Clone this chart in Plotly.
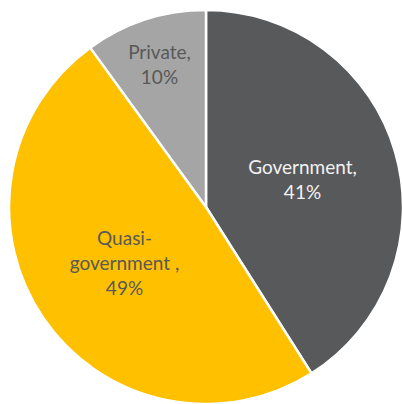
import plotly.graph_objects as go

labels = ["Government", "Quasi-government ", "Private"]
display_labels = ["Government,", "Quasi-<br>government ,", "Private,"]
values = [41, 49, 10]
colors = ["#58595B", "#FFC000", "#A5A5A5"]
text_colors = ["#F2F2F2", "#595959", "#595959"]

fig = go.Figure(go.Pie(
    labels=labels,
    values=values,
    text=display_labels,
    texttemplate="%{text}<br>%{percent:.0%}",
    textposition="inside",
    insidetextorientation="horizontal",
    sort=False,
    direction="clockwise",
    rotation=0,
    marker=dict(colors=colors, line=dict(color="white", width=2.5)),
    textfont=dict(family="Lato", size=19, color=text_colors),
    domain=dict(x=[9/403, 1], y=[0, 1 - 10/404]),
    showlegend=False,
    hoverinfo="label+percent",
))
fig.update_layout(
    width=403, height=404,
    margin=dict(l=0, r=0, t=0, b=0),
    paper_bgcolor="white",
    plot_bgcolor="white",
    uniformtext=dict(minsize=19, mode="show"),
)
fig.write_html("out.html")
